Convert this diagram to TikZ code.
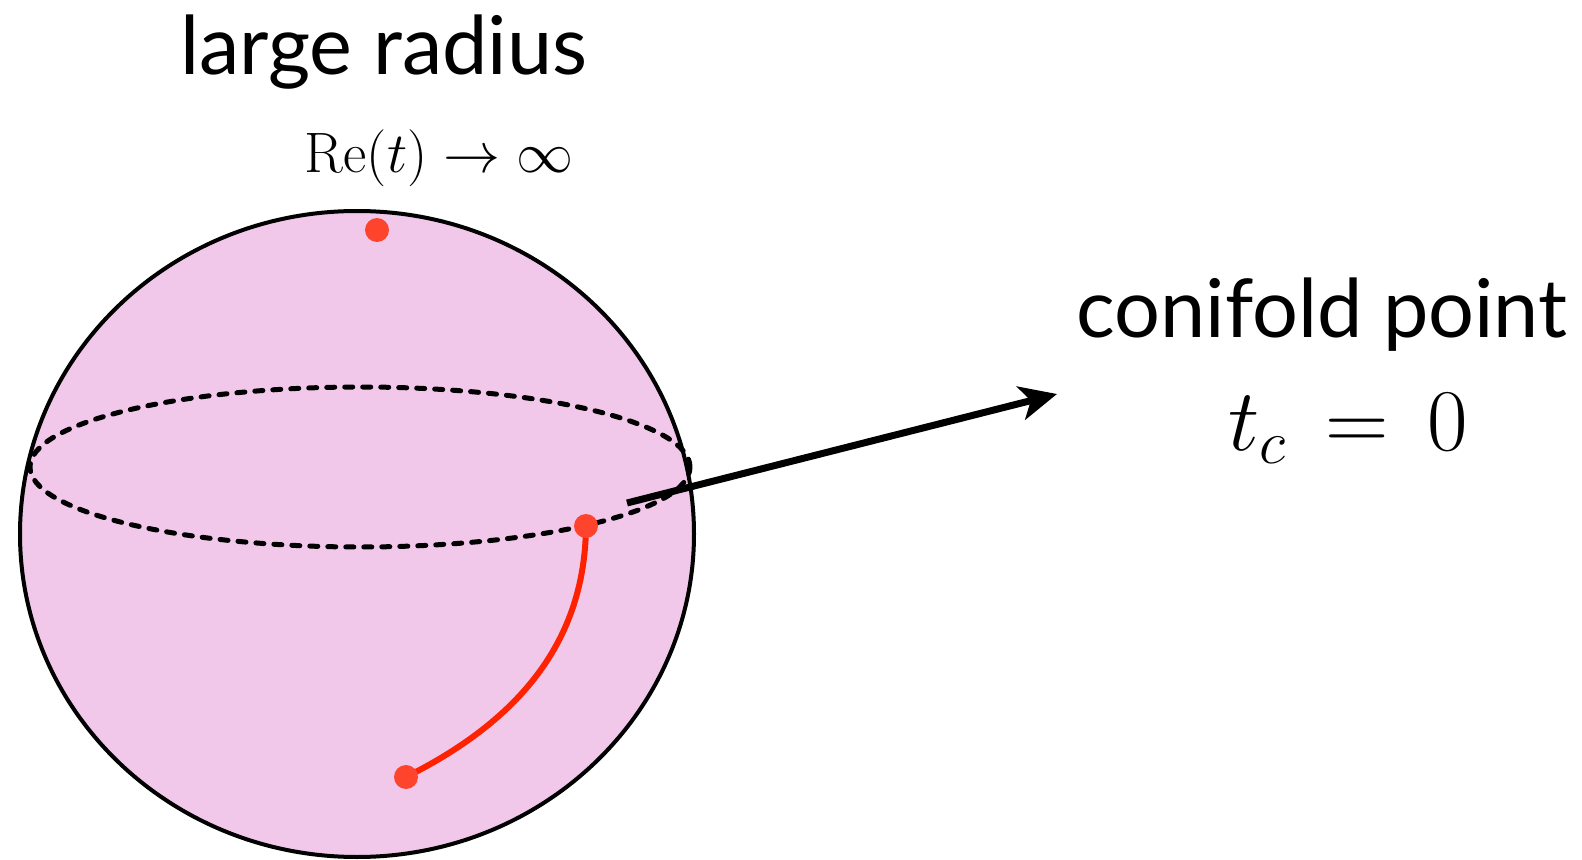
\RequirePackage{fix-cm}
\documentclass[tikz,border=0pt]{standalone}
\usepackage[no-math]{fontspec}
\setmainfont{Lato}
\usetikzlibrary{arrows.meta}
\usepackage{xcolor}

\definecolor{spherepink}{RGB}{241,199,234}
\definecolor{dotred}{RGB}{255,68,46}
\definecolor{pathred}{RGB}{255,34,0}

\tikzset{
  bigtext/.style={inner sep=0pt, anchor=base, font=\fontsize{40.5}{50}\selectfont},
  mathtext/.style={inner sep=0pt, anchor=base},
  reddot/.style={circle, fill=dotred, inner sep=0pt, minimum size=12pt},
  redpath/.style={pathred, line width=3pt},
  bigarrow/.style={line width=3.5pt, -{Stealth[length=18.5pt, width=17pt, inset=5pt]}}
}

\begin{document}
\begin{tikzpicture}[x=50pt, y=50pt]
  \useasboundingbox (0,0) rectangle (15.82,8.59);

  % sphere
  \draw[line width=2pt, fill=spherepink] (3.57,3.25) ellipse [x radius=3.37, y radius=3.23];

  % equator
  \draw[line width=2.5pt, line cap=round, dash pattern=on 4pt off 5pt] (3.6,3.92) ellipse [x radius=3.3, y radius=0.8];

  % path to the conifold point
  \coordinate (conipt) at (5.86,3.33);
  \coordinate (startpt) at (4.06,0.82);
  \draw[redpath] (conipt) .. controls (5.85,2.1) and (5.1,1.34) .. (startpt);

  % points
  \node[reddot] (infdot) at (3.77,6.29) {};
  \node[reddot] (conidot) at (conipt) {};
  \node[reddot] (startdot) at (startpt) {};

  % arrow
  \coordinate (arrowfrom) at (6.27,3.56);
  \coordinate (arrowto) at (10.57,4.65);
  \draw[bigarrow] (arrowfrom) -- (arrowto);

  % labels
  \node[bigtext] (largelabel) at (3.84,7.84) {large radius};
  \node[mathtext, font=\fontsize{28.5}{34}\selectfont] (relabel) at (4.39,6.86) {$\mathrm{Re}(t)\to\infty$};
  \node[bigtext] (conilabel) at (13.22,5.22) {conifold point};
  \node[mathtext, font=\fontsize{44}{52}\selectfont] (tclabel) at (13.48,4.09) {$t_c\,=\,0$};
\end{tikzpicture}
\end{document}
